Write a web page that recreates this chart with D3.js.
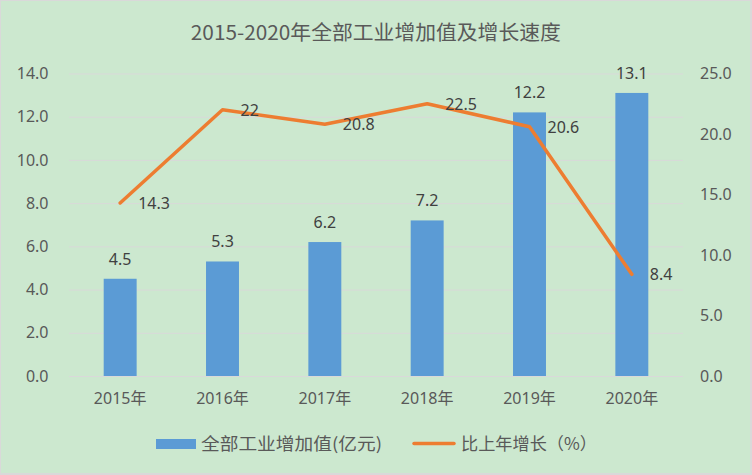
<!DOCTYPE html>
<html><head><meta charset="utf-8">
<script src="https://cdn.jsdelivr.net/npm/d3@7"></script>
<style>html,body{margin:0;padding:0;background:#fff;}svg{display:block;}</style>
</head><body>
<script>
const years = ["2015年","2016年","2017年","2018年","2019年","2020年"];
const valueAdded = [4.5, 5.3, 6.2, 7.2, 12.2, 13.1];
const growth = [14.3, 22, 20.8, 22.5, 20.6, 8.4];
const leftTicks = [0, 2, 4, 6, 8, 10, 12, 14];
const rightTicks = [0, 5, 10, 15, 20, 25];
const titleText = "2015-2020年全部工业增加值及增长速度";
const legendBar = "全部工业增加值(亿元)";
const legendLine = "比上年增长（%）";

const W = 752, H = 475;
const NUM = "'Noto Sans','Noto Sans CJK SC',sans-serif";
const CJK = "'Noto Sans CJK SC','Noto Sans',sans-serif";
const svg = d3.select("body").append("svg").attr("width", W).attr("height", H);
svg.append("rect").attr("width", W).attr("height", H).attr("fill", "#d9d9d9");
svg.append("rect").attr("x", 1).attr("y", 1).attr("width", 749).attr("height", 472).attr("fill", "#cce8cf");

const x = d3.scaleBand().domain(years).range([69, 683]).padding(0);
const yL = d3.scaleLinear().domain([0, 14]).range([376, 73.5]);
const yR = d3.scaleLinear().domain([0, 25]).range([376, 73.5]);

// gridlines
const grid = svg.append("g").attr("transform", "translate(69,0)")
  .call(d3.axisLeft(yL).tickValues(leftTicks).tickSize(-614).tickFormat(""));
grid.select(".domain").remove();
grid.selectAll("line").attr("stroke", "#d9d9d9").attr("stroke-width", 1);

// left axis
const ga = svg.append("g").attr("transform", "translate(69,0)")
  .call(d3.axisLeft(yL).tickValues(leftTicks).tickSize(0).tickPadding(20.5).tickFormat(d3.format(".1f")));
ga.select(".domain").remove();
ga.selectAll("text").attr("fill", "#595959").style("font-family", NUM).style("font-size", "16px");

// right axis
const gr = svg.append("g").attr("transform", "translate(683,0)")
  .call(d3.axisRight(yR).tickValues(rightTicks).tickSize(0).tickPadding(17).tickFormat(d3.format(".1f")));
gr.select(".domain").remove();
gr.selectAll("text").attr("fill", "#595959").style("font-family", NUM).style("font-size", "16px");

// x axis
const gx = svg.append("g").attr("transform", "translate(0,376)")
  .call(d3.axisBottom(x).tickSize(0).tickPadding(17));
gx.select(".domain").remove();
gx.selectAll("text").attr("fill", "#595959").style("font-family", NUM).style("font-size", "16px");

// bars
const bw = x.bandwidth() * 0.322;
svg.append("g").selectAll("rect").data(valueAdded).join("rect")
  .attr("x", (d, i) => x(years[i]) + x.bandwidth() / 2 - bw / 2)
  .attr("y", d => yL(d))
  .attr("width", bw)
  .attr("height", d => yL(0) - yL(d))
  .attr("fill", "#5b9bd5");

// bar labels
svg.append("g").selectAll("text").data(valueAdded).join("text")
  .attr("x", (d, i) => x(years[i]) + x.bandwidth() / 2)
  .attr("y", d => yL(d) - 14)
  .attr("text-anchor", "middle")
  .attr("fill", "#404040").style("font-family", NUM).style("font-size", "16px")
  .text(d => d.toFixed(1));

// line
const cx = (i) => x(years[i]) + x.bandwidth() / 2;
const line = d3.line().x((d, i) => cx(i)).y(d => yR(d));
svg.append("path").datum(growth).attr("d", line)
  .attr("fill", "none").attr("stroke", "#ed7d31").attr("stroke-width", 3.5)
  .attr("stroke-linejoin", "round").attr("stroke-linecap", "round");

svg.append("g").selectAll("text").data(growth).join("text")
  .attr("x", (d, i) => cx(i) + 18)
  .attr("y", d => yR(d))
  .attr("dy", "0.36em")
  .attr("fill", "#404040").style("font-family", NUM).style("font-size", "16px")
  .text(d => String(d));

// title
svg.append("text").attr("x", 375.8).attr("y", 32.5).attr("dy", "0.36em")
  .attr("text-anchor", "middle").attr("fill", "#595959")
  .attr("textLength", 370).attr("lengthAdjust", "spacingAndGlyphs")
  .style("font-family", CJK).style("font-size", "20px")
  .text(titleText);

// legend
svg.append("rect").attr("x", 156).attr("y", 439).attr("width", 40).attr("height", 10).attr("fill", "#5b9bd5");
svg.append("text").attr("x", 201).attr("y", 443.5).attr("dy", "0.36em")
  .attr("fill", "#595959").attr("textLength", 181).attr("lengthAdjust", "spacingAndGlyphs")
  .style("font-family", CJK).style("font-size", "17px").text(legendBar);
svg.append("line").attr("x1", 414).attr("x2", 454).attr("y1", 443.5).attr("y2", 443.5)
  .attr("stroke", "#ed7d31").attr("stroke-width", 3.5).attr("stroke-linecap", "round");
svg.append("text").attr("x", 461).attr("y", 443.5).attr("dy", "0.36em")
  .attr("fill", "#595959").attr("textLength", 136).attr("lengthAdjust", "spacingAndGlyphs")
  .style("font-family", CJK).style("font-size", "17px").text(legendLine);
</script>
</body></html>
